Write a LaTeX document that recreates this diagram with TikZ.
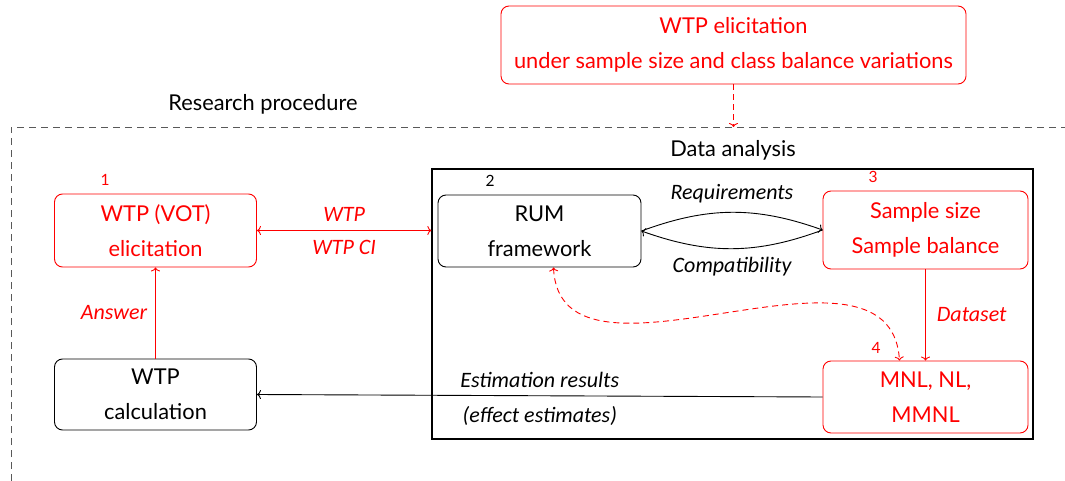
\documentclass[tikz,border=0pt]{standalone}
\usepackage{fontspec}
\setmainfont{Lato}
\newfontfamily\labfont{Carlito}
\usetikzlibrary{arrows.meta}
\begin{document}
\begin{tikzpicture}[x=1pt,y=-1pt,
  every node/.style={font=\fontsize{21.8}{35}\selectfont, inner sep=0pt},
  box/.style={draw, rounded corners=8pt, line width=0.9pt, align=center},
  redbox/.style={box, draw=red, text=red},
  num/.style={font=\fontsize{15.5}{18}\selectfont},
  conn/.style={line width=0.9pt, arrows={-To[length=4pt,width=9pt]}},
  lab/.style={font=\labfont\fontsize{22}{35}\selectfont\itshape},
  frame/.style={dash pattern=on 7pt off 5pt, line width=0.9pt, draw=black!65}]
\useasboundingbox (0,0) rectangle (1065,481);
% outer frame (research procedure)
\coordinate (rpTL) at (11,127);
\coordinate (rpBL) at (11,481);
\coordinate (rpTR) at (1065,127);
\draw[frame] (rpBL) -- (rpTL) -- (rpTR);
\node (rptitle) at (263,104) {Research procedure};
% top box
\node[redbox, minimum width=465pt, minimum height=78pt] (top) at (733.5,45)
  {WTP elicitation\\under sample size and class balance variations};
\draw[conn, red, dash pattern=on 6pt off 4pt] (top.south) -- (top.south |- rpTL);
% data analysis frame
\node (datitle) at (733,150) {Data analysis};
\node[draw, line width=1.3pt, minimum width=601pt, minimum height=270pt] (da) at (732.5,304) {};
% boxes
\node[redbox, minimum width=202pt, minimum height=73pt] (b1) at (155.5,230.5) {WTP (VOT)\\elicitation};
\node[box, minimum width=203pt, minimum height=72pt] (rum) at (539.5,231) {RUM\\framework};
\node[redbox, minimum width=205pt, minimum height=78pt] (samp) at (925.5,230) {Sample size\\Sample balance};
\node[redbox, minimum width=205pt, minimum height=72pt] (mnl) at (925.5,397) {MNL, NL,\\MMNL};
\node[box, minimum width=202pt, minimum height=71pt] (calc) at (155.5,394.5) {WTP\\calculation};
% numbers
\node[num, text=red] (n1) at (105,180) {1};
\node[num] (n2) at (490,181) {2};
\node[num, text=red] (n3) at (873,177) {3};
\node[num, text=red] (n4) at (876,348) {4};
% connectors
\draw[conn, red, arrows={To[length=4pt,width=9pt]-To[length=4pt,width=9pt]}] (b1.east) -- (b1.east -| da.west)
  node[midway, above=9pt, lab, text=red] {WTP}
  node[midway, below=9pt, lab, text=red] {WTP CI};
\draw[conn] (rum.east) to[bend left=20] node[midway, above=9pt, lab] {Requirements} (samp.west);
\draw[conn] (samp.west) to[bend left=20] node[midway, below=8pt, lab] {Compatibility} (rum.east);
\draw[conn, red] (samp.south) -- (mnl.north) node[midway, right=11pt, lab, text=red] {Dataset};
\draw[conn] (mnl.west) -- (calc.east)
  node[midway, above=8pt, lab] {Estimation results}
  node[midway, below=10pt, lab] {(effect estimates)};
\draw[conn, red] (calc.north) -- (b1.south) node[midway, left=8pt, lab, text=red] {Answer};
\draw[conn, red, dash pattern=on 6pt off 4pt, arrows={To[length=4pt,width=9pt]-To[length=4pt,width=9pt]}]
  ([xshift=14pt]rum.south) .. controls (560,410) and (890,215) .. ([xshift=-26pt]mnl.north);
\end{tikzpicture}
\end{document}
